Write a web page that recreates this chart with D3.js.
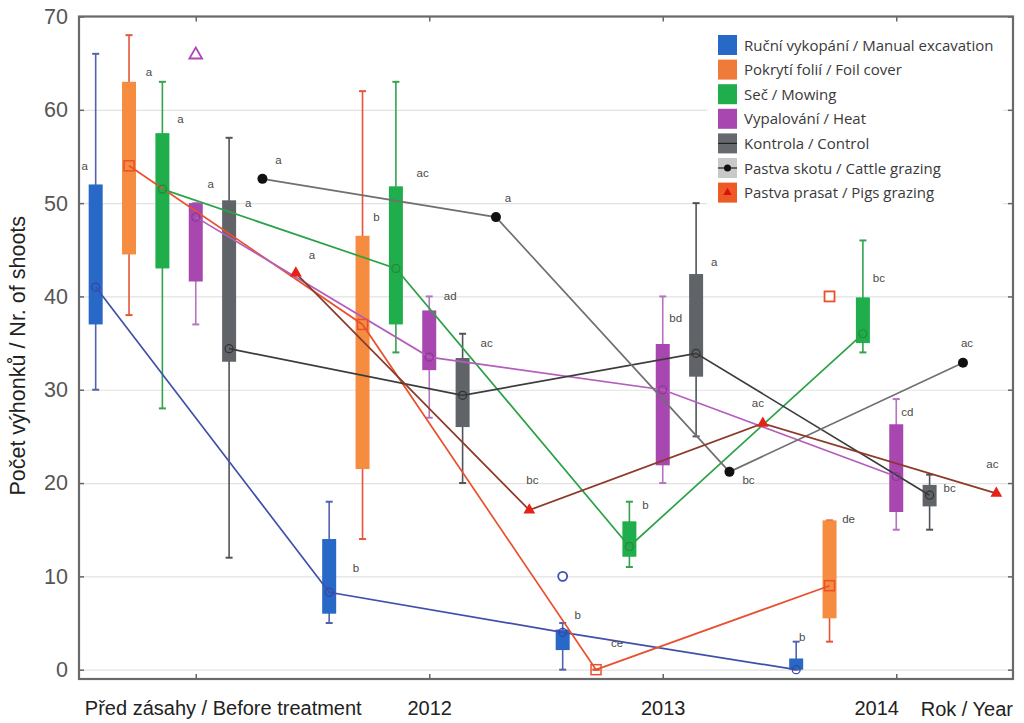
<!DOCTYPE html>
<html><head><meta charset="utf-8">
<script src="https://cdn.jsdelivr.net/npm/d3@7/dist/d3.min.js"></script>
<style>body{margin:0;background:#fff}svg{display:block}</style>
</head><body>
<svg id="c" width="1024" height="723"></svg>
<script>
// ---- data ----
const groups = ["Před zásahy / Before treatment", "2012", "2013", "2014"];
const seriesNames = ["Ruční vykopání / Manual excavation","Pokrytí folií / Foil cover","Seč / Mowing","Vypalování / Heat","Kontrola / Control","Pastva skotu / Cattle grazing","Pastva prasat / Pigs grazing"];
const yTicks = [0,10,20,30,40,50,60,70];

// box series: [min, q1, median, q3, max] per group
const manualExcavation = [[30,37,41,52,66],[5,6,8.3,14,18],[0,2.1,4,4.3,5],[0,0,0,1.2,3]];
const foilCover        = [[38,44.5,54,63,68],[14,21.5,37,46.5,62],[0,0,0,0,0],[3,5.5,9,16,16]];
const mowing           = [[28,43,51.5,57.5,63],[34,37,43,51.8,63],[11,12.1,13.2,15.9,18],[34,35,36,39.9,46]];
const heat             = [[37,41.6,48.5,50,50],[27,32.1,33.5,38.5,40],[20,21.9,30,34.9,40],[15,16.9,20.7,26.3,29]];
const control          = [[12,33,34.4,50.3,57],[20,26,29.4,33.4,36],[25,31.4,33.9,42.4,50],[15,17.5,18.7,19.8,20.9]];
// point series
const cattleGrazing = [52.6,48.5,21.2,32.9];
const pigsGrazing   = [42.5,17.1,26.4,18.9];
// outliers: [seriesIndex, groupIndex, value]
const outliers = [[3,0,66],[0,2,10],[1,3,40]];
// significance letters per series / group, their value level and horizontal offset (in slot units)
const letters = [
  ["a","b","b","b"],["a","b","ce","de"],["a","ac","b","bc"],["a","ad","bd","cd"],
  ["a","ac","a","bc"],["a","a","bc","ac"],["a","bc","ac","ac"]];
const letterVals = [
  [54,10.9,5.9,3.5],[64,48.5,2.9,16.2],[59,53.2,17.7,42],[52,40,37.7,27.6],
  [50,35,43.7,19.5],[54.6,50.6,20.3,35],[44.4,20.3,28.6,22]];
const letterDx = [
  [-0.33,0.8,0.45,0.18],[0.6,0.42,0.63,0.57],[0.54,0.8,0.48,0.48],[0.45,0.63,0.39,0.33],
  [0.57,0.72,0.54,0.6],[0.48,0.36,0.57,0.12],[0.48,0.09,-0.15,-0.12]];

// ---- styles ----
const boxFill   = ["#2868c6","#f58c40","#20ae4c","#a747af","#606468"];
const whiskCol  = ["#5361b3","#e4553a","#35a24c","#b673c0","#505458"];
const lineCol   = ["#4050aa","#e9512e","#2ba247","#b35ebd","#3c3c3c","#707070","#8c3a2a"];

const svg = d3.select("#c");
const L = 79, R = 1013, T = 16.5, B = 679;
const x = d3.scaleLinear().domain([-0.5, 27.5]).range([L, R]);
const y = d3.scaleLinear().domain([-1, 70]).range([B, T]);
const slot = (s, g) => g * 7 + s;
const bw = 14;

// gridlines
svg.append("g").attr("transform",`translate(${L},0)`)
  .call(d3.axisLeft(y).tickValues(yTicks).tickSize(-(R-L)).tickFormat(""))
  .call(g => { g.select(".domain").remove(); g.selectAll("line").attr("stroke","#e2e2e2").attr("stroke-width",1.2); });

// y axis labels + inner ticks
svg.append("g").attr("transform",`translate(${L},0)`)
  .call(d3.axisLeft(y).tickValues(yTicks).tickSize(-5).tickPadding(11).tickFormat(d3.format("d")))
  .call(g => { g.select(".domain").remove();
    g.selectAll("line").attr("stroke","#666").attr("stroke-width",1.5);
    g.selectAll("text").attr("font-family","Liberation Sans, Arial, sans-serif").attr("font-size",21.5).attr("fill","#555"); });
svg.append("g").attr("transform",`translate(${R},0)`)
  .call(d3.axisRight(y).tickValues(yTicks).tickSize(-5).tickFormat(""))
  .call(g => { g.select(".domain").remove(); g.selectAll("line").attr("stroke","#666").attr("stroke-width",1.5); });

// x axis
const xTickVals = groups.map((d,i)=>slot(3,i));
const xLabelDx = [27, 0, 0, -20];
svg.append("g").attr("transform",`translate(0,${B})`)
  .call(d3.axisBottom(x).tickValues(xTickVals).tickSize(-5).tickPadding(22).tickFormat((d,i)=>groups[i]))
  .call(g => { g.select(".domain").remove();
    g.selectAll("line").attr("stroke","#666").attr("stroke-width",1.5);
    g.selectAll("text").attr("font-family","Liberation Sans, Arial, sans-serif").attr("font-size",20).attr("fill","#222")
      .attr("dx",(d,i)=>xLabelDx[i]); });
svg.append("g").attr("transform",`translate(0,${T})`)
  .call(d3.axisTop(x).tickValues(xTickVals).tickSize(-5).tickFormat(""))
  .call(g => { g.select(".domain").remove(); g.selectAll("line").attr("stroke","#666").attr("stroke-width",1.5); });
svg.append("text").attr("x",R).attr("y",B+37).attr("text-anchor","end")
  .attr("font-family","Liberation Sans, Arial, sans-serif").attr("font-size",20).attr("fill","#222").text("Rok / Year");

// y title
svg.append("text").attr("transform",`translate(25,${(T+B)/2+8}) rotate(-90)`).attr("text-anchor","middle")
  .attr("font-family","Liberation Sans, Arial, sans-serif").attr("font-size",21.5).attr("fill","#222")
  .text("Počet výhonků / Nr. of shoots");

// boxes
const boxSeries = [manualExcavation, foilCover, mowing, heat, control];
const plot = svg.append("g");
boxSeries.forEach((ser, s) => {
  const g = plot.append("g");
  ser.forEach((b, gi) => {
    const cx = x(slot(s, gi));
    g.append("line").attr("x1",cx).attr("x2",cx).attr("y1",y(b[0])).attr("y2",y(b[4]))
      .attr("stroke",whiskCol[s]).attr("stroke-width",1.6);
    [b[0], b[4]].forEach(v => g.append("line").attr("x1",cx-3.5).attr("x2",cx+3.5).attr("y1",y(v)).attr("y2",y(v))
      .attr("stroke",whiskCol[s]).attr("stroke-width",2));
    g.append("rect").attr("x",cx-bw/2).attr("width",bw).attr("y",y(b[3])).attr("height",Math.max(0,y(b[1])-y(b[3])))
      .attr("fill",boxFill[s]);
  });
});

// lines through medians / points
const lineData = boxSeries.map(ser => ser.map(b => b[2])).concat([cattleGrazing, pigsGrazing]);
const lineGen = d3.line();
lineData.forEach((vals, s) => {
  plot.append("path").attr("d", lineGen(vals.map((v,gi)=>[x(slot(s,gi)), y(v)])))
    .attr("fill","none").attr("stroke",lineCol[s]).attr("stroke-width",1.7);
});

// median markers
lineData.forEach((vals, s) => {
  vals.forEach((v, gi) => {
    const cx = x(slot(s,gi)), cy = y(v);
    if (s === 1) {
      plot.append("rect").attr("x",cx-5).attr("y",cy-5).attr("width",10).attr("height",10)
        .attr("fill","none").attr("stroke","#e9512e").attr("stroke-width",1.5);
    } else if (s === 5) {
      plot.append("circle").attr("cx",cx).attr("cy",cy).attr("r",5).attr("fill","#111");
    } else if (s === 6) {
      plot.append("path").attr("d",d3.symbol(d3.symbolTriangle, 60)()).attr("transform",`translate(${cx},${cy})`).attr("fill","#e52218");
    } else {
      plot.append("circle").attr("cx",cx).attr("cy",cy).attr("r",4).attr("fill","none")
        .attr("stroke", s===0 ? "#3545a5" : s===2 ? "#1e8a3a" : s===3 ? "#8a3a92" : "#333").attr("stroke-width",1.2);
    }
  });
});

// outliers
outliers.forEach(([s, gi, v]) => {
  const cx = x(slot(s,gi)), cy = y(v);
  if (s === 3) plot.append("path").attr("d",d3.symbol(d3.symbolTriangle, 70)()).attr("transform",`translate(${cx},${cy+1})`)
      .attr("fill","#fff").attr("stroke","#b046b8").attr("stroke-width",1.8);
  else if (s === 0) plot.append("circle").attr("cx",cx).attr("cy",cy).attr("r",4.5).attr("fill","#fff").attr("stroke","#3d4fb5").attr("stroke-width",1.8);
  else plot.append("rect").attr("x",cx-5).attr("y",cy-5).attr("width",10).attr("height",10).attr("fill","#fff").attr("stroke","#e9512e").attr("stroke-width",1.8);
});

// letters
letters.forEach((row, s) => row.forEach((t, gi) => {
  plot.append("text").attr("x", x(slot(s,gi) + letterDx[s][gi])).attr("y", y(letterVals[s][gi]) + 4)
    .attr("text-anchor","middle").attr("font-family","Liberation Sans, Arial, sans-serif").attr("font-size",11.5).attr("fill","#4a4a4a").text(t);
}));

// legend
const lg = svg.append("g");
lg.append("rect").attr("x",707).attr("y",28).attr("width",296).attr("height",184).attr("fill","#fff");
const iconFill = ["#2868c6","#f07a3a","#20ae4c","#a747af","#666a6e","#c9c9c9","#ee5a26"];
seriesNames.forEach((name, i) => {
  const cy = 45 + i * 24.6;
  lg.append("rect").attr("x",718).attr("y",cy-10).attr("width",19).attr("height",20).attr("fill",iconFill[i]);
  if (i === 4 || i === 5) lg.append("line").attr("x1",718).attr("x2",737).attr("y1",cy).attr("y2",cy).attr("stroke","#222").attr("stroke-width",1.2);
  if (i === 5) lg.append("circle").attr("cx",727.5).attr("cy",cy).attr("r",3.5).attr("fill","#111");
  if (i === 6) lg.append("path").attr("d",d3.symbol(d3.symbolTriangle,30)()).attr("transform",`translate(727.5,${cy})`).attr("fill","#d81010");
  lg.append("text").attr("x",744).attr("y",cy+5.5).attr("font-family","Open Sans, Noto Sans, sans-serif")
    .attr("font-size",15).attr("fill","#3a3a3a").text(name);
});

// frame
svg.append("rect").attr("x",L).attr("y",T).attr("width",R-L).attr("height",B-T)
  .attr("fill","none").attr("stroke","#6a6a6a").attr("stroke-width",2.2);
</script>
</body></html>
